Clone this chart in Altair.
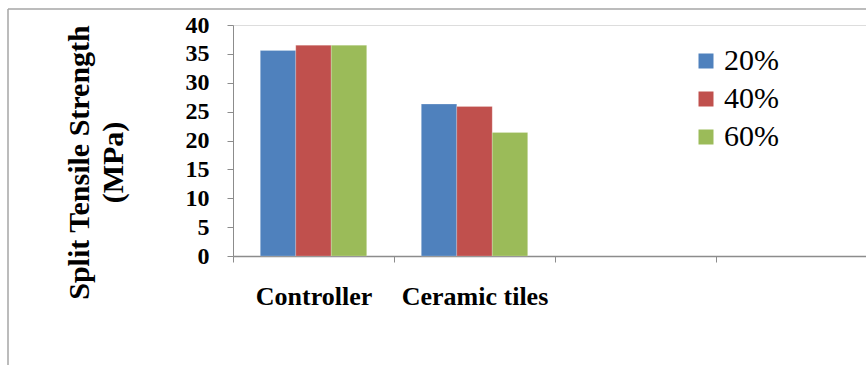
import altair as alt
import pandas as pd

# Mix categories (last two slots are empty on the axis) and replacement levels
categories = ["Controller", "Ceramic tiles", "", " "]
levels = ["20%", "40%", "60%"]
controller_values = [35.6, 36.5, 36.5]
ceramic_values = [26.3, 25.9, 21.4]
colors = ["#4F81BD", "#C0504D", "#9BBB59"]

rows = []
for lvl, v in zip(levels, controller_values):
    rows.append({"mix": categories[0], "level": lvl, "strength": v})
for lvl, v in zip(levels, ceramic_values):
    rows.append({"mix": categories[1], "level": lvl, "strength": v})
df = pd.DataFrame(rows)

SERIF = "Liberation Serif, Times New Roman, serif"
AXIS_GREY = "#8C8C8C"

bars = alt.Chart(df).mark_bar(stroke="#FFFFFF", strokeOpacity=0.35, strokeWidth=0.6).encode(
    x=alt.X(
        "mix:N",
        sort=categories,
        scale=alt.Scale(domain=categories, range=[0, 644], paddingInner=0, paddingOuter=0),
        axis=alt.Axis(
            title=None,
            labelAngle=0,
            labelFont=SERIF,
            labelFontWeight="bold",
            labelFontSize=26,
            labelColor="#000000",
            labelPadding=21,
            tickBand="extent",
            tickSize=6,
            tickColor=AXIS_GREY,
            domainColor=AXIS_GREY,
            domainWidth=1.5,
            grid=False,
        ),
    ),
    xOffset=alt.XOffset(
        "level:N",
        sort=levels,
        scale=alt.Scale(paddingInner=0, paddingOuter=0.77),
    ),
    y=alt.Y(
        "strength:Q",
        scale=alt.Scale(domain=[0, 40], nice=False),
        axis=alt.Axis(
            title=["Split Tensile Strength", "(MPa)"],
            titleFont=SERIF,
            titleFontWeight="bold",
            titleFontSize=30,
            titleColor="#000000",
            titleLineHeight=34,
            titleAngle=-90,
            titleAlign="center",
            titleBaseline="middle",
            titleX=-154,
            titleY=137,
            values=list(range(0, 41, 5)),
            labelFont=SERIF,
            labelFontWeight="bold",
            labelFontSize=24,
            labelColor="#000000",
            labelPadding=18,
            tickSize=6,
            tickColor=AXIS_GREY,
            domainColor=AXIS_GREY,
            grid=False,
        ),
    ),
    color=alt.Color(
        "level:N",
        sort=levels,
        scale=alt.Scale(domain=levels, range=colors),
        legend=alt.Legend(
            title=None,
            orient="none",
            legendX=458,
            legendY=21,
            symbolType="square",
            symbolSize=225,
            symbolStrokeWidth=0,
            symbolOpacity=1,
            labelFont=SERIF,
            labelFontSize=30,
            labelColor="#000000",
            labelOffset=3,
            rowPadding=8,
        ),
    ),
)

# Outer frame lines (top and left edges of the chart box)
frame_src = pd.DataFrame({"k": [0]})
frame_top = alt.Chart(frame_src).mark_rule(color="#A6A6A6", strokeWidth=1.5).encode(
    x=alt.value(-225), x2=alt.value(700), y=alt.value(-16)
)
frame_left = alt.Chart(frame_src).mark_rule(color="#A6A6A6", strokeWidth=1.5).encode(
    x=alt.value(-225), y=alt.value(-16), y2=alt.value(340)
)

chart = alt.layer(bars, frame_top, frame_left).properties(
    width=633,
    height=231,
    padding={"left": 233, "top": 25, "right": 0, "bottom": 118},
    autosize=alt.AutoSizeParams(type="none"),
).configure_view(stroke=None).configure(background="#FFFFFF", font=SERIF)

chart.save("out.html", embed_options={"renderer": "svg", "actions": False})
